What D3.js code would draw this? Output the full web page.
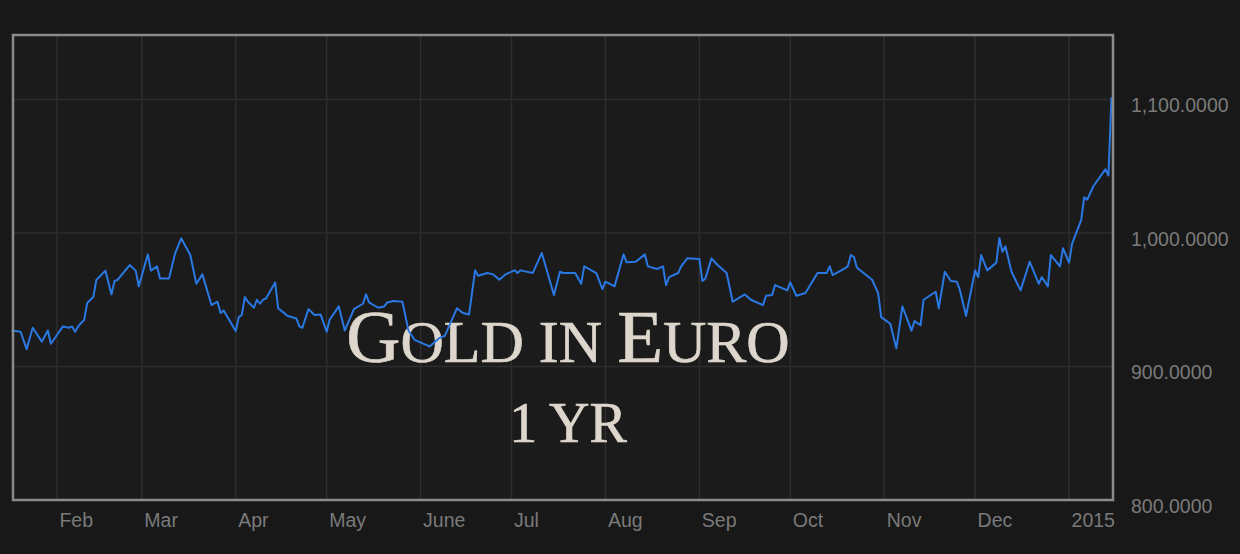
<!DOCTYPE html>
<html>
<head>
<meta charset="utf-8">
<script src="https://cdn.jsdelivr.net/npm/d3@7/dist/d3.min.js"></script>
<style>
  html, body { margin: 0; padding: 0; background: #181818; }
  svg { display: block; }
</style>
</head>
<body>
<svg id="chart" width="1240" height="554"></svg>
<script>
// ---- data ----
const dates = [
"2014-01-17","2014-01-20","2014-01-22","2014-01-24","2014-01-27","2014-01-29","2014-01-30","2014-02-01",
"2014-02-03","2014-02-05","2014-02-06","2014-02-07","2014-02-08","2014-02-10","2014-02-11","2014-02-13",
"2014-02-14","2014-02-17","2014-02-19","2014-02-20","2014-02-21","2014-02-25","2014-02-27","2014-02-28",
"2014-03-03","2014-03-04","2014-03-06","2014-03-07","2014-03-10","2014-03-12","2014-03-14","2014-03-17",
"2014-03-19","2014-03-21","2014-03-24","2014-03-26","2014-03-27","2014-03-28","2014-04-01","2014-04-02",
"2014-04-03","2014-04-04","2014-04-05","2014-04-07","2014-04-08","2014-04-09","2014-04-10","2014-04-11",
"2014-04-14","2014-04-15","2014-04-17","2014-04-18","2014-04-21","2014-04-22","2014-04-23","2014-04-25",
"2014-04-27","2014-04-29","2014-05-01","2014-05-02","2014-05-05","2014-05-07","2014-05-10","2014-05-13",
"2014-05-14","2014-05-15","2014-05-18","2014-05-20","2014-05-21","2014-05-23","2014-05-26","2014-05-28",
"2014-05-30","2014-06-03","2014-06-04","2014-06-07","2014-06-09","2014-06-13","2014-06-15","2014-06-17",
"2014-06-19","2014-06-20","2014-06-23","2014-06-25","2014-06-27","2014-06-29","2014-07-02","2014-07-03",
"2014-07-04","2014-07-08","2014-07-11","2014-07-15","2014-07-17","2014-07-18","2014-07-22","2014-07-24",
"2014-07-25","2014-07-29","2014-07-31","2014-08-01","2014-08-04","2014-08-07","2014-08-08","2014-08-11",
"2014-08-14","2014-08-15","2014-08-18","2014-08-20","2014-08-21","2014-08-22","2014-08-25","2014-08-26",
"2014-08-28","2014-09-01","2014-09-02","2014-09-03","2014-09-05","2014-09-07","2014-09-10","2014-09-12",
"2014-09-16","2014-09-18","2014-09-22","2014-09-23","2014-09-25","2014-09-26","2014-09-30","2014-10-01",
"2014-10-03","2014-10-06","2014-10-10","2014-10-13","2014-10-14","2014-10-15","2014-10-19","2014-10-20",
"2014-10-21","2014-10-22","2014-10-23","2014-10-28","2014-10-30","2014-10-31","2014-11-03","2014-11-05",
"2014-11-07","2014-11-10","2014-11-11","2014-11-13","2014-11-14","2014-11-18","2014-11-19","2014-11-21",
"2014-11-23","2014-11-25","2014-11-26","2014-11-28","2014-12-01","2014-12-02","2014-12-03","2014-12-05",
"2014-12-08","2014-12-09","2014-12-10","2014-12-11","2014-12-13","2014-12-16","2014-12-19","2014-12-22",
"2014-12-23","2014-12-25","2014-12-26","2014-12-29","2014-12-30","2015-01-01","2015-01-02","2015-01-05",
"2015-01-06","2015-01-07","2015-01-09","2015-01-13","2015-01-14","2015-01-15"
];
const prices = [
927,926,913,929,918.6,927,917,923.6,
930,929,930,926,930,935,947.6,952,
964.8,971.8,954,964,964.8,976,971.8,960,
984,971.8,975,966,966,984.8,996,983.5,
962,969,946,948.5,940,942,926.5,937,
938.6,952,948.5,944,950,947,950,951,
963,943.6,940,938,936,930,929,943,
938.6,939,926,935,945,927,943,947,
954,948,944,945,948,949,948.5,927,
920,916,915,921,923,943.6,940,939,
972,968,970,969,965,969,972,970,
972,970,985,953.6,971,970,970,962,
975,970,958,963.5,960,984,978,978.5,
984,975,973,975,961,967,970,975,
981,980.5,964,966,981,976,970,948.5,
954,950,946,953,953.6,961,957,963,
953,955,970,970,975,968.5,973.5,975,
983.5,982,974,965,955,937,932,913.6,
945,926.8,934,931,950,956,943.5,971,
964,963.5,957,938,972,967,983.5,972,
977.8,996,986,990,971,957,978.5,962,
967,960,983.5,975,988.5,977.8,992,1009.7,
1026.7,1025,1035,1047.7,1043,1101.7
];
const monthTicks = ["2014-02-01","2014-03-01","2014-04-01","2014-05-01","2014-06-01","2014-07-01",
  "2014-08-01","2014-09-01","2014-10-01","2014-11-01","2014-12-01","2015-01-01"];
const monthLabels = ["Feb","Mar","Apr","May","June","Jul","Aug","Sep","Oct","Nov","Dec","2015"];
const yTicks = [800, 900, 1000, 1100];
const titleMain = "Gold in Euro";
const titleSub = "1 YR";

// ---- layout ----
const L = 13, T = 35, R = 1113, B = 500;
const parse = d3.utcParse("%Y-%m-%d");
const data = dates.map((d, i) => ({ date: parse(d), value: prices[i] }));

const x = d3.scaleUtc()
  .domain([new Date(Date.UTC(2014, 0, 17, 12)), new Date(Date.UTC(2015, 0, 15, 12))])
  .range([L, R]);
const y = d3.scaleLinear().domain([800, 1148.3]).range([B, T]);

const svg = d3.select("#chart");
svg.append("rect").attr("width", 1240).attr("height", 554).attr("fill", "#181818");
svg.append("rect").attr("x", L).attr("y", T).attr("width", R - L).attr("height", B - T).attr("fill", "#1b1b1b");

const tickDates = monthTicks.map(parse);

// grid
const grid = svg.append("g").attr("stroke", "#2d2d2d").attr("stroke-width", 1.6);
grid.selectAll("line.v").data(tickDates).join("line")
  .attr("x1", d => x(d)).attr("x2", d => x(d)).attr("y1", T).attr("y2", B);
grid.selectAll("line.h").data(yTicks.filter(v => v > 800)).join("line")
  .attr("x1", L).attr("x2", R).attr("y1", d => y(d)).attr("y2", d => y(d));

// title (small caps built from real text)
const tFont = "'Liberation Serif', 'Times New Roman', serif";
const title = svg.append("text")
  .attr("x", 568).attr("y", 362)
  .attr("text-anchor", "middle")
  .attr("fill", "#ddd6cc")
  .attr("stroke", "#ddd6cc").attr("stroke-width", 0.7)
  .attr("font-family", tFont);
// group consecutive characters by case
const runs = [];
for (const ch of titleMain) {
  const big = ch !== " " && ch === ch.toUpperCase() && ch !== ch.toLowerCase();
  const last = runs[runs.length - 1];
  if (last && last.big === big) last.text += ch; else runs.push({ big, text: ch });
}
runs.forEach(r => {
  title.append("tspan").attr("font-size", r.big ? 75 : 60).text(r.text.toUpperCase());
});
svg.append("text")
  .attr("x", 568).attr("y", 442)
  .attr("text-anchor", "middle")
  .attr("fill", "#ddd6cc")
  .attr("stroke", "#ddd6cc").attr("stroke-width", 0.7)
  .attr("font-family", tFont)
  .attr("font-size", 56)
  .text(titleSub);

// line
const line = d3.line().x(d => x(d.date)).y(d => y(d.value));
svg.append("path").datum(data)
  .attr("d", line)
  .attr("fill", "none")
  .attr("stroke", "#2a78e4")
  .attr("stroke-width", 2)
  .attr("stroke-linejoin", "round");

// frame
svg.append("rect").attr("x", L).attr("y", T).attr("width", R - L).attr("height", B - T)
  .attr("fill", "none").attr("stroke", "#8a8a8a").attr("stroke-width", 2.5);

// x axis
const xAxis = d3.axisBottom(x)
  .tickValues(tickDates)
  .tickSize(0)
  .tickFormat((d, i) => monthLabels[i]);
const gx = svg.append("g").attr("transform", `translate(0,${B})`).call(xAxis);
gx.select(".domain").remove();
gx.selectAll("text")
  .attr("text-anchor", "start")
  .attr("dx", 2)
  .attr("y", 27).attr("dy", 0)
  .attr("fill", "#7a7a7a")
  .attr("font-family", "'Liberation Sans', Arial, Helvetica, sans-serif")
  .attr("font-size", 19.5);

// y axis
const yAxis = d3.axisRight(y)
  .tickValues(yTicks)
  .tickSize(0)
  .tickFormat(d3.format(",.4f"));
const gy = svg.append("g").attr("transform", `translate(${R},0)`).call(yAxis);
gy.select(".domain").remove();
gy.selectAll("text")
  .attr("x", 18).attr("dy", 12.5)
  .attr("text-anchor", "start")
  .attr("fill", "#7a7a7a")
  .attr("font-family", "'Liberation Sans', Arial, Helvetica, sans-serif")
  .attr("font-size", 19.5);
</script>
</body>
</html>
